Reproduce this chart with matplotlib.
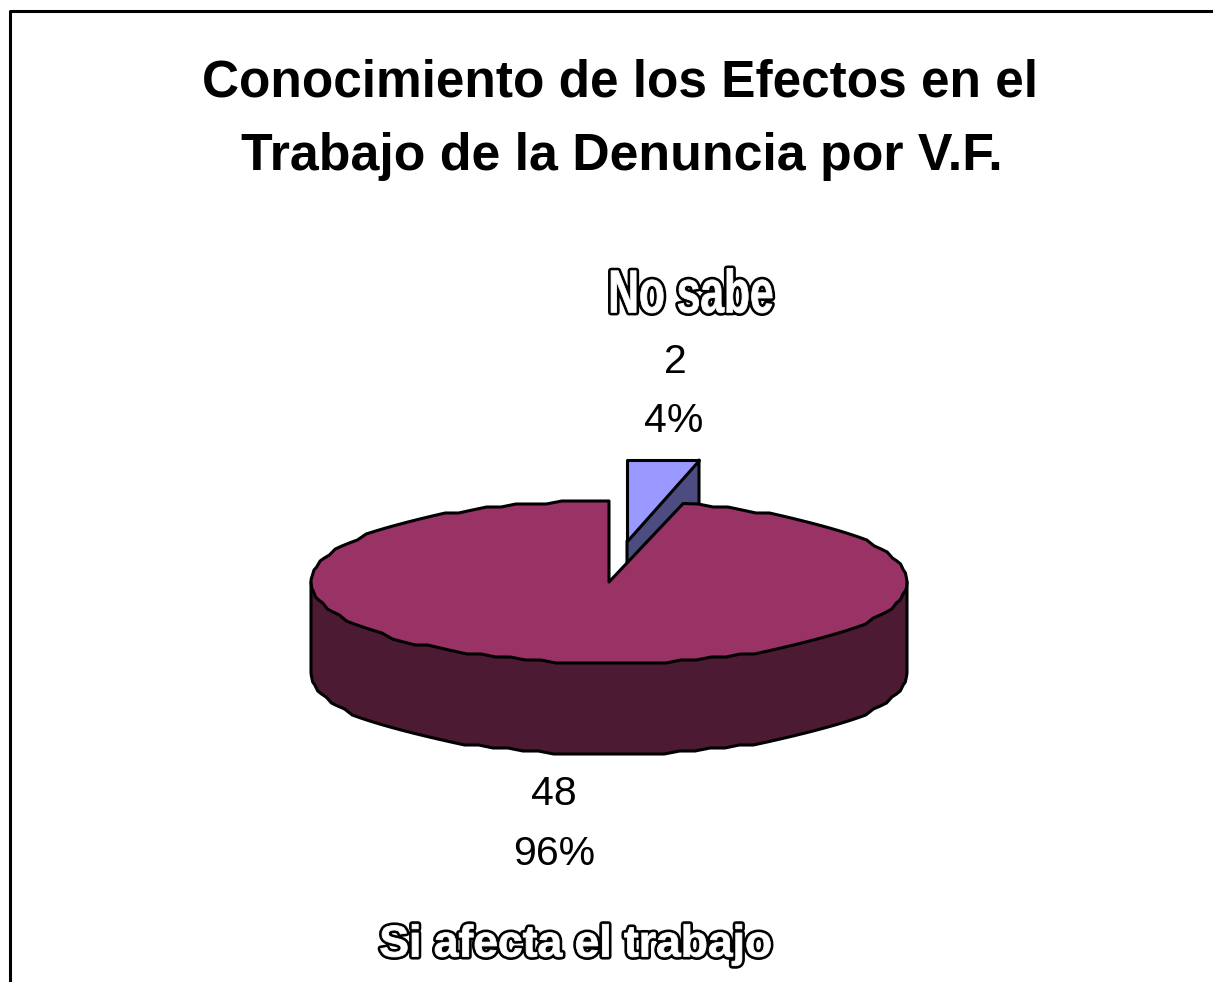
import matplotlib; matplotlib.use("Agg")
import matplotlib.pyplot as plt, numpy as np
import matplotlib.patheffects as pe
from matplotlib.patches import Polygon
from matplotlib.transforms import Affine2D

plt.rcParams["font.family"] = ["Liberation Sans", "DejaVu Sans"]

categories = ["Si afecta el trabajo", "No sabe"]
values = [48, 2]
percents = ["96%", "4%"]
title_lines = ["Conocimiento de los Efectos en el", "Trabajo de la Denuncia por V.F."]

W, H = 1213, 982
fig = plt.figure(figsize=(W/100, H/100), dpi=100)
ax = fig.add_axes([0, 0, 1, 1]); ax.set_xlim(0, W); ax.set_ylim(H, 0); ax.axis("off")

# frame is cut off at bottom and right of the picture
ax.plot([10, 10, W], [H, 11, 11], color="black", lw=2.2, solid_capstyle="butt")

ax.text(620, 83, title_lines[0], ha="center", va="center", fontsize=37, fontweight="bold")
ax.text(622, 156, title_lines[1], ha="center", va="center", fontsize=37.4, fontweight="bold")

# pie geometry, angles clockwise from 12 o'clock
cx, cy, rx, ry, depth = 609, 582, 298, 81, 91
split = 360 * values[1] / sum(values)

def rim(a0, a1, x0=cx, y0=cy, n=60):
    # polygon snapped to a grid, the original outline is slightly stepped
    t = np.radians(np.linspace(a0, a1, n))
    pts = np.column_stack([x0 + rx*np.sin(t), y0 - ry*np.cos(t)])
    pts[1:-1, 1] = y0 + np.round((pts[1:-1, 1] - y0) / 3) * 3
    return pts

edge = dict(edgecolor="black", lw=2.2, joinstyle="round")

# small slice, pulled out: wall first, big slice covers the lower part
dx, dy = 18, -41
tip = np.array([cx + dx, cy + dy])
s_top = np.array([[tip[0], tip[1] - 81], [tip[0] + 72, tip[1] - 81]])
ax.add_patch(Polygon([tip, s_top[1], s_top[1] + [0, depth], tip + [0, depth]], closed=True,
                     facecolor="#4C4C80", **edge))
ax.add_patch(Polygon(np.vstack([tip, s_top]), closed=True, facecolor="#9999FF", **edge))

# big slice wall, upper edge stays hidden under the top
front = rim(90, 270) + [0, depth]
wall = np.vstack([[cx + rx, cy], front, [cx - rx, cy]])
ax.add_patch(Polygon(wall, closed=True, facecolor="#4C1A33", **edge))
top = np.vstack([[cx, cy], rim(split, 360, n=115)])
ax.add_patch(Polygon(top, closed=True, facecolor="#993366", **edge))

lab = dict(ha="center", va="center", fontsize=29.5)
ax.text(675, 362, str(values[1]), **lab)
ax.text(674, 421, percents[1], **lab)
ax.text(554, 794, str(values[0]), **lab)
ax.text(554, 854, percents[0], **lab)

class Outlined(pe.AbstractPathEffect):
    # white letters with a black outline, stretched about an anchor point
    def __init__(self, anchor, sx=1, sy=1, lw=4.4):
        super().__init__()
        self.anchor, self.sx, self.sy, self.lw = anchor, sx, sy, lw
    def draw_path(self, renderer, gc, tpath, affine, rgbFace):
        ax0, ay0 = self.anchor
        stretched = affine + Affine2D().translate(-ax0, -ay0).scale(self.sx, self.sy).translate(ax0, ay0)
        gc0 = renderer.new_gc(); gc0.copy_properties(gc)
        gc0.set_foreground("black"); gc0.set_linewidth(self.lw)
        renderer.draw_path(gc0, tpath, stretched, (0, 0, 0, 1))
        gc0.set_foreground("white"); gc0.set_linewidth(0.6)
        renderer.draw_path(gc0, tpath, stretched, (1, 1, 1, 1))
        gc0.restore()

def word_art(txt, x, y, size, sx, sy):
    ax.text(x, y, txt, ha="center", va="center", fontsize=size, fontweight="bold", color="white",
            path_effects=[Outlined(ax.transData.transform((x, y)), sx, sy)])

word_art(categories[1], 691, 297, 34, 0.9, 1.28)
word_art(categories[0], 576, 945, 32, 1.0, 1.0)

fig.savefig("out.png", dpi=100)
